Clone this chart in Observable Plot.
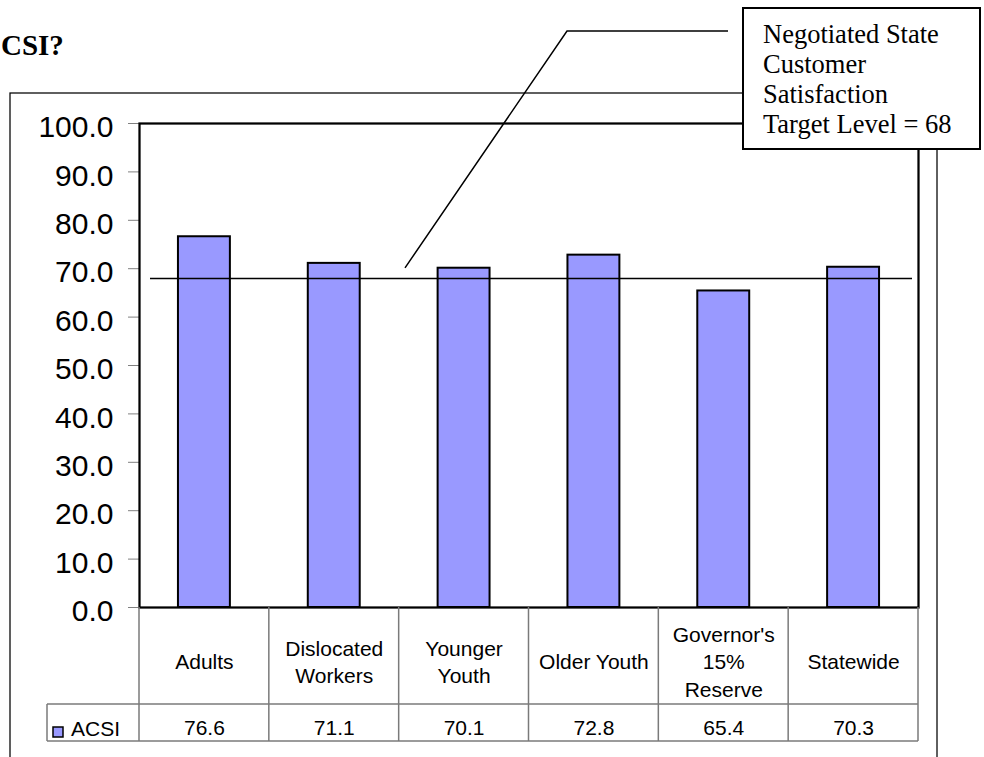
<!DOCTYPE html>
<html>
<head>
<meta charset="utf-8">
<script src="https://cdn.jsdelivr.net/npm/d3@7"></script>
<script src="https://cdn.jsdelivr.net/npm/@observablehq/plot@0.6"></script>
<style>
  html, body { margin: 0; padding: 0; background: #fff; }
</style>
</head>
<body>
<div id="chart"></div>
<script>
// ---- data ----
const categories = ["Adults", "Dislocated\nWorkers", "Younger\nYouth", "Older Youth", "Governor's\n15%\nReserve", "Statewide"];
const acsiScores = [76.6, 71.1, 70.1, 72.8, 65.4, 70.3];
const seriesName = "ACSI";
const targetLevel = 68;
const yTicks = [0, 10, 20, 30, 40, 50, 60, 70, 80, 90, 100];
const titleText = "CSI?";
const calloutLines = ["Negotiated State", "Customer", "Satisfaction", "Target Level = " + targetLevel];

const rows = categories.map((category, i) => ({category, value: acsiScores[i]}));

// ---- layout of the surrounding chrome (pixels) ----
const BAR_FILL = "#9999ff";
const GRID = "#7a7a7a";
const SERIF = '"Liberation Serif", "Times New Roman", serif';
const SANS = '"Liberation Sans", Arial, sans-serif';
const TABLE_FONT = 21;
const chrome = {
  border: {x: 10, y: 93, right: 937},
  title: {x: 1, y: 55, size: 29},
  table: {headerHeight: 97, rowHeight: 37, keyLeft: 47},
  box: {x: 743, y: 8, w: 237, h: 141, textX: 763, firstBaseline: 43, lineStep: 30, size: 26.5},
  leader: {startX: 405, rise: 10, elbowX: 567, elbowY: 31, endX: 728}
};

// Outer chart-area border and the heading fragment
function chartBorder(index, scales, values, dims) {
  const g = d3.create("svg:g").attr("text-anchor", "start");
  const b = chrome.border;
  g.append("rect")
    .attr("x", b.x).attr("y", b.y)
    .attr("width", b.right - b.x).attr("height", dims.height - b.y + 20)
    .attr("fill", "none").attr("stroke", "#000").attr("stroke-width", 1.25);
  g.append("text")
    .attr("x", chrome.title.x).attr("y", chrome.title.y)
    .attr("font-family", SERIF).attr("font-weight", "bold")
    .attr("font-size", chrome.title.size).attr("fill", "#000")
    .text(titleText);
  return g.node();
}

// Data-table grid under the plot, with the series key
function dataTable(index, scales, values, dims) {
  const x = scales.x;
  const n = categories.length;
  const step = typeof x.step === "function" ? x.step() : (dims.width - dims.marginLeft - dims.marginRight) / n;
  const bw = typeof x.bandwidth === "function" ? x.bandwidth() : step * 0.4;
  const edges = categories.map(c => x(c) + bw / 2 - step / 2);
  edges.push(edges[n - 1] + step);
  const top = dims.height - dims.marginBottom;
  const mid = top + chrome.table.headerHeight;
  const bottom = mid + chrome.table.rowHeight;
  const keyLeft = chrome.table.keyLeft;
  const right = edges[n];

  const g = d3.create("svg:g").attr("text-anchor", "start");
  const lines = g.append("g").attr("stroke", GRID).attr("stroke-width", 1.5).attr("fill", "none");
  edges.forEach(e => lines.append("line").attr("x1", e).attr("x2", e).attr("y1", top).attr("y2", bottom));
  lines.append("line").attr("x1", keyLeft).attr("x2", right).attr("y1", mid).attr("y2", mid);
  lines.append("line").attr("x1", keyLeft).attr("x2", right).attr("y1", bottom).attr("y2", bottom);
  lines.append("line").attr("x1", keyLeft).attr("x2", keyLeft).attr("y1", mid).attr("y2", bottom);

  // series key
  g.append("rect")
    .attr("x", keyLeft + 6).attr("y", bottom - 14)
    .attr("width", 10).attr("height", 10)
    .attr("fill", BAR_FILL).attr("stroke", "#000").attr("stroke-width", 1.5);
  g.append("text")
    .attr("x", keyLeft + 24).attr("y", bottom - 5)
    .attr("font-family", SANS).attr("font-size", TABLE_FONT).attr("fill", "#000")
    .text(seriesName);
  return g.node();
}

// Callout naming the target level, with its leader line
function targetCallout(index, scales, values, dims) {
  const y = scales.y;
  const yT = y(targetLevel);
  const L = chrome.leader, B = chrome.box;
  const g = d3.create("svg:g").attr("text-anchor", "start");
  g.append("path")
    .attr("d", `M${L.startX},${yT - L.rise}L${L.elbowX},${L.elbowY}H${L.endX}`)
    .attr("fill", "none").attr("stroke", "#000").attr("stroke-width", 1.5);
  g.append("rect")
    .attr("x", B.x).attr("y", B.y).attr("width", B.w).attr("height", B.h)
    .attr("fill", "#fff").attr("stroke", "#000").attr("stroke-width", 2);
  const t = g.append("text")
    .attr("font-family", SERIF).attr("font-size", B.size).attr("fill", "#000");
  calloutLines.forEach((line, i) => {
    t.append("tspan").attr("x", B.textX).attr("y", B.firstBaseline + i * B.lineStep).text(line);
  });
  return g.node();
}

const chart = Plot.plot({
  width: 984,
  height: 757,
  marginLeft: 139,
  marginRight: 66,
  marginTop: 123,
  marginBottom: 150,
  style: {fontFamily: SANS, background: "#fff", color: "#000", overflow: "visible"},
  x: {domain: categories, paddingInner: 0.6, paddingOuter: 0.3, align: 0.5, round: false, axis: null},
  y: {domain: [0, 100], label: null, axis: null},
  marks: [
    chartBorder,
    Plot.barY(rows, {x: "category", y: "value", fill: BAR_FILL, stroke: "#000", strokeWidth: 2}),
    Plot.axisY(yTicks, {tickSize: 11, stroke: "#808080", fill: "none", label: null}),
    Plot.frame({stroke: "#000", strokeWidth: 2.25}),
    Plot.ruleY([targetLevel], {stroke: "#000", strokeWidth: 1.5, insetLeft: 11, insetRight: 6}),
    Plot.axisY(yTicks, {tickSize: 0, tickPadding: 26, tickFormat: d => d.toFixed(1), fontSize: 30, dy: 4, label: null}),
    dataTable,
    Plot.text(rows, {x: "category", text: "category", frameAnchor: "bottom", lineAnchor: "middle", dy: 53, fontSize: TABLE_FONT, lineHeight: 1.3, fill: "#000"}),
    Plot.text(rows, {x: "category", text: d => d.value.toFixed(1), frameAnchor: "bottom", lineAnchor: "middle", dy: 121, fontSize: TABLE_FONT, fill: "#000"}),
    targetCallout
  ]
});

document.getElementById("chart").appendChild(chart);
</script>
</body>
</html>
